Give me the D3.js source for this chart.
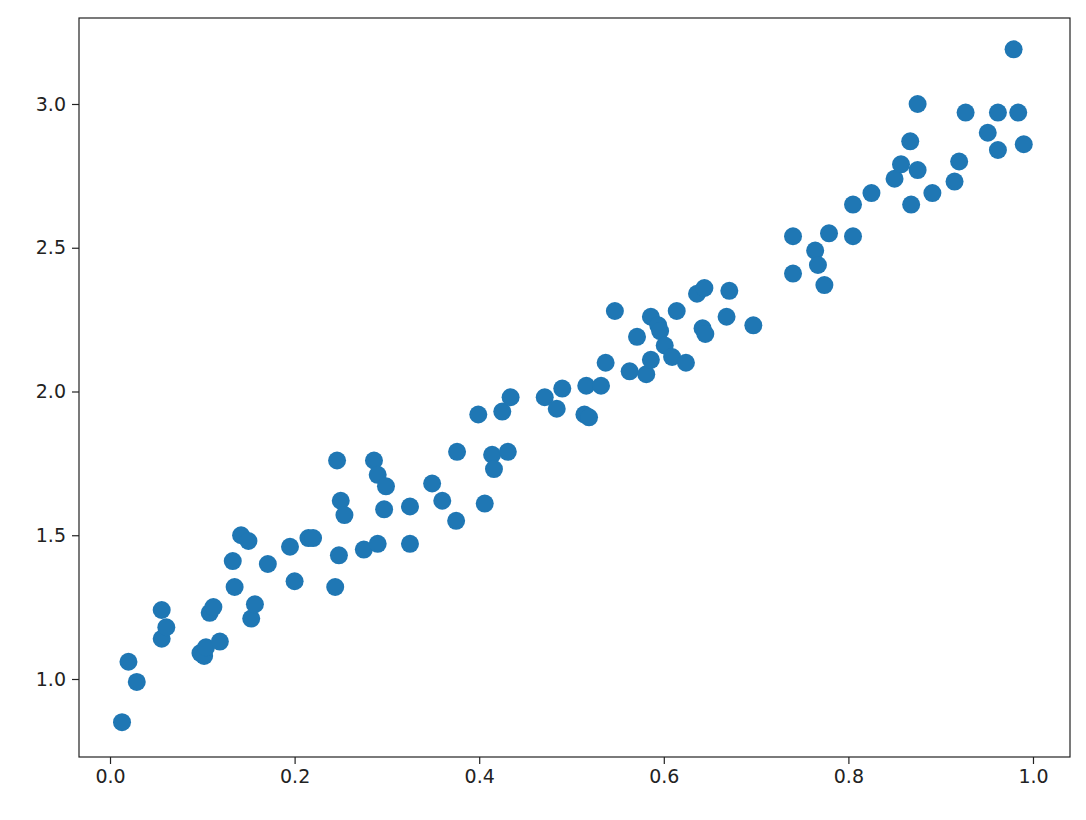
<!DOCTYPE html>
<html>
<head>
<meta charset="utf-8">
<script src="https://cdn.jsdelivr.net/npm/d3@7"></script>
<style>
  body { margin: 0; background: #fff; }
  text { font-family: "DejaVu Sans", sans-serif; }
</style>
</head>
<body>
<div id="chart"></div>
<script>
let xValues = [0.013,0.020,0.029,0.056,0.056,0.061,0.098,0.102,0.104,0.108,0.112,0.119,0.133,0.135,0.142,0.150,0.153,0.157,0.171,0.195,0.200,0.215,0.220,0.244,0.246,0.248,0.250,0.254,0.275,0.286,0.290,0.290,0.297,0.299,0.325,0.325,0.349,0.360,0.375,0.376,0.406,0.399,0.414,0.416,0.425,0.431,0.434,0.471,0.484,0.490,0.514,0.519,0.516,0.532,0.537,0.547,0.563,0.571,0.581,0.586,0.586,0.594,0.596,0.601,0.609,0.614,0.624,0.636,0.644,0.642,0.645,0.671,0.668,0.697,0.740,0.740,0.764,0.767,0.774,0.779,0.805,0.805,0.825,0.850,0.857,0.867,0.868,0.875,0.875,0.891,0.915,0.920,0.927,0.951,0.962,0.962,0.979,0.984,0.990];
let yValues = [0.85,1.06,0.99,1.24,1.14,1.18,1.09,1.08,1.11,1.23,1.25,1.13,1.41,1.32,1.50,1.48,1.21,1.26,1.40,1.46,1.34,1.49,1.49,1.32,1.76,1.43,1.62,1.57,1.45,1.76,1.71,1.47,1.59,1.67,1.60,1.47,1.68,1.62,1.55,1.79,1.61,1.92,1.78,1.73,1.93,1.79,1.98,1.98,1.94,2.01,1.92,1.91,2.02,2.02,2.10,2.28,2.07,2.19,2.06,2.11,2.26,2.23,2.21,2.16,2.12,2.28,2.10,2.34,2.36,2.22,2.20,2.35,2.26,2.23,2.54,2.41,2.49,2.44,2.37,2.55,2.54,2.65,2.69,2.74,2.79,2.87,2.65,2.77,3.00,2.69,2.73,2.80,2.97,2.90,2.97,2.84,3.19,2.97,2.86];
let xTicks = [0.0,0.2,0.4,0.6,0.8,1.0];
let yTicks = [1.0,1.5,2.0,2.5,3.0];

let data = xValues.map((x, i) => ({x: x, y: yValues[i]}));

let width = 1086, height = 820;
let margin = {top: 18, bottom: 63, left: 79, right: 16};

let svg = d3.select("#chart")
            .append("svg")
            .attr("width", width)
            .attr("height", height);

let xscale = d3.scaleLinear()
               .domain([-0.0336, 1.0401])
               .range([margin.left, width - margin.right]);

let yscale = d3.scaleLinear()
               .domain([0.7287, 3.2991])
               .range([height - margin.bottom, margin.top]);

let xaxis = svg.append("g")
               .attr("transform", `translate(0,${height - margin.bottom})`)
               .call(d3.axisBottom(xscale).tickValues(xTicks).tickFormat(d3.format(".1f")).tickSize(7).tickPadding(6));

let yaxis = svg.append("g")
               .attr("transform", `translate(${margin.left},0)`)
               .call(d3.axisLeft(yscale).tickValues(yTicks).tickFormat(d3.format(".1f")).tickSize(7).tickPadding(6));

svg.selectAll(".domain").remove();
svg.selectAll(".tick text").attr("font-size", 19).attr("fill", "#222");
svg.selectAll(".tick line").attr("stroke", "#222").attr("stroke-width", 1.2);

svg.selectAll("circle")
   .data(data)
   .enter()
   .append("circle")
   .attr("r", 9)
   .attr("cx", d => xscale(d.x))
   .attr("cy", d => yscale(d.y))
   .attr("fill", "#1f77b4");

svg.append("rect")
   .attr("x", margin.left)
   .attr("y", margin.top)
   .attr("width", width - margin.left - margin.right)
   .attr("height", height - margin.top - margin.bottom)
   .attr("fill", "none")
   .attr("stroke", "#222")
   .attr("stroke-width", 1.2);
</script>
</body>
</html>
